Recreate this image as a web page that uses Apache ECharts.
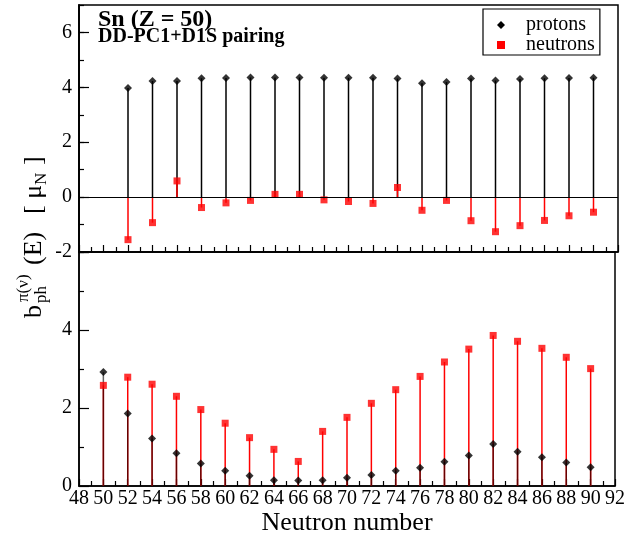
<!DOCTYPE html>
<html>
<head>
<meta charset="utf-8">
<script src="https://cdn.jsdelivr.net/npm/echarts@6/dist/echarts.min.js"></script>
<style>html,body{margin:0;padding:0;background:#fff}#c{width:628px;height:540px}</style>
</head>
<body>
<div id="c"></div>
<script>
// ---- data ----
var neutronNumbers = [50,52,54,56,58,60,62,64,66,68,70,72,74,76,78,80,82,84,86,88,90];
// upper panel (values in mu_N)
var topProtons  = [null,3.98,4.23,4.23,4.33,4.34,4.36,4.36,4.36,4.35,4.35,4.35,4.32,4.15,4.19,4.32,4.25,4.30,4.33,4.34,4.35];
var topNeutrons = [null,-1.55,-0.93,0.59,-0.38,-0.21,-0.12,0.10,0.10,-0.10,-0.16,-0.23,0.35,-0.48,-0.12,-0.86,-1.26,-1.04,-0.85,-0.68,-0.55];
// lower panel
var botProtons  = [2.92,1.86,1.22,0.84,0.58,0.39,0.26,0.15,0.14,0.15,0.21,0.28,0.39,0.47,0.62,0.78,1.08,0.88,0.74,0.60,0.48];
var botNeutrons = [2.58,2.79,2.61,2.30,1.96,1.61,1.24,0.94,0.63,1.40,1.76,2.12,2.47,2.81,3.18,3.51,3.86,3.71,3.53,3.30,3.01];
var xTicks = {min:48, max:92, step:2};
var topY = {min:-2, max:7, step:2};
var botY = {min:0, max:6, step:2};

function pairs(vals){
  var out=[];
  for (var i=0;i<neutronNumbers.length;i++){ if (vals[i]!==null) out.push([neutronNumbers[i], vals[i]]); }
  return out;
}

var FF = 'Liberation Serif';
var chart = echarts.init(document.getElementById('c'), null, {renderer:'canvas'});
var AL = {show:true, onZero:false, lineStyle:{color:'#000', width:1.5}};

function xAxis(grid, showLabels){
  return {
    type:'value', gridIndex:grid, min:xTicks.min, max:xTicks.max, interval:xTicks.step,
    position:'bottom',
    axisLine:AL,
    axisTick:{show:true, inside:true, length:7, lineStyle:{color:'#000', width:1.2}},
    minorTick:{show:true, splitNumber:2, length:5, lineStyle:{color:'#000', width:1.2}},
    splitLine:{show:false},
    axisLabel:{show:showLabels, fontFamily:FF, fontSize:20, color:'#000', margin:3},
    name: showLabels ? 'Neutron number' : '',
    nameLocation:'middle', nameGap:22,
    nameTextStyle:{fontFamily:FF, fontSize:26, color:'#000'}
  };
}

var option = {
  animation:false,
  backgroundColor:'#fff',
  grid:[
    {left:79, right:10, top:5, height:247, show:true, borderColor:'#000', borderWidth:1.5, backgroundColor:'transparent'},
    {left:79, right:10, top:252, height:234, show:true, borderColor:'#000', borderWidth:1.5, backgroundColor:'transparent'}
  ],
  xAxis:[ xAxis(0,false), xAxis(1,true) ],
  yAxis:[
    {type:'value', gridIndex:0, min:topY.min, max:topY.max, interval:topY.step,
     axisLine:AL, splitLine:{show:false},
     axisTick:{show:true, inside:true, length:10, lineStyle:{color:'#000', width:1.2}},
     axisLabel:{fontFamily:FF, fontSize:20, color:'#000', margin:7, showMaxLabel:false}},
    {type:'value', gridIndex:0, position:'left', min:topY.min, max:topY.max, interval:1,
     axisLine:AL, splitLine:{show:false},
     axisTick:{show:true, inside:true, length:5, lineStyle:{color:'#000', width:1.2}},
     axisLabel:{show:false}},
    {type:'value', gridIndex:1, min:botY.min, max:botY.max, interval:botY.step,
     axisLine:AL, splitLine:{show:false},
     axisTick:{show:true, inside:true, length:10, lineStyle:{color:'#000', width:1.2}},
     minorTick:{show:true, splitNumber:2, length:5, lineStyle:{color:'#000', width:1.2}},
     axisLabel:{fontFamily:FF, fontSize:20, color:'#000', margin:7, showMaxLabel:false}}
  ],
  legend:{
    left:483, top:9, orient:'vertical', selectedMode:false,
    padding:[6,5,0,14], itemWidth:8, itemHeight:8, itemGap:0,
    borderColor:'#000', borderWidth:1.2,
    textStyle:{fontFamily:FF, fontSize:20, color:'#000', lineHeight:18, padding:[0,0,0,16]},
    data:[
      {name:'protons', icon:'diamond', itemStyle:{color:'#000'}},
      {name:'neutrons', icon:'rect', itemStyle:{color:'#ff0000'}}
    ]
  },
  graphic:[
    {type:'text', left:98, top:8, style:{text:'Sn (Z = 50)', font:'bold 24px "Liberation Serif"', fill:'#000'}},
    {type:'text', left:98, top:27, style:{text:'DD-PC1+D1S pairing', font:'bold 20px "Liberation Serif"', fill:'#000'}},
    {type:'group', x:0, y:318, rotation:Math.PI/2, children:[
      {type:'text', x:0,   y:34, style:{text:'b', font:'26px "Liberation Serif"', fill:'#000', verticalAlign:'middle', align:'left'}},
      {type:'text', x:16,  y:24, style:{text:'π(ν)', font:'17px "Liberation Serif"', fill:'#000', verticalAlign:'middle', align:'left'}},
      {type:'text', x:15,  y:42, style:{text:'ph', font:'17px "Liberation Serif"', fill:'#000', verticalAlign:'middle', align:'left'}},
      {type:'text', x:53,  y:34, style:{text:'(E)', font:'26px "Liberation Serif"', fill:'#000', verticalAlign:'middle', align:'left'}},
      {type:'text', x:104, y:34, style:{text:'[ μ', font:'26px "Liberation Serif"', fill:'#000', verticalAlign:'middle', align:'left'}},
      {type:'text', x:133, y:42, style:{text:'N', font:'17px "Liberation Serif"', fill:'#000', verticalAlign:'middle', align:'left'}},
      {type:'text', x:153, y:34, style:{text:']', font:'26px "Liberation Serif"', fill:'#000', verticalAlign:'middle', align:'left'}}
    ]}
  ],
  series:[
    {name:'protons', type:'bar', xAxisIndex:0, yAxisIndex:0, barWidth:1.5, barGap:'-100%',
     itemStyle:{color:'#000'}, data:pairs(topProtons),
     markLine:{silent:true, symbol:['none','none'], label:{show:false},
       lineStyle:{color:'#000', width:1.2, type:'solid'}, data:[{yAxis:0}]}},
    {name:'neutrons', type:'bar', xAxisIndex:0, yAxisIndex:0, barWidth:1.5, barGap:'-100%',
     itemStyle:{color:'#ff0000'}, data:pairs(topNeutrons)},
    {name:'neutrons', type:'bar', xAxisIndex:1, yAxisIndex:2, barWidth:1.5, barGap:'-100%',
     itemStyle:{color:'#ff0000'}, data:pairs(botNeutrons)},
    {name:'protons', type:'bar', xAxisIndex:1, yAxisIndex:2, barWidth:1.5, barGap:'-100%',
     itemStyle:{color:'rgba(0,0,0,0.6)'}, data:pairs(botProtons)},
    {name:'neutrons', type:'scatter', xAxisIndex:0, yAxisIndex:0, symbol:'rect', symbolSize:7,
     itemStyle:{color:'#ff0000'}, data:pairs(topNeutrons)},
    {name:'protons', type:'scatter', xAxisIndex:0, yAxisIndex:0, symbol:'diamond', symbolSize:8,
     itemStyle:{color:'#000'}, data:pairs(topProtons)},
    {name:'neutrons', type:'scatter', xAxisIndex:1, yAxisIndex:2, symbol:'rect', symbolSize:7,
     itemStyle:{color:'#ff0000'}, data:pairs(botNeutrons)},
    {name:'protons', type:'scatter', xAxisIndex:1, yAxisIndex:2, symbol:'diamond', symbolSize:8,
     itemStyle:{color:'#000'}, data:pairs(botProtons)}
  ]
};
chart.setOption(option);
</script>
</body>
</html>
